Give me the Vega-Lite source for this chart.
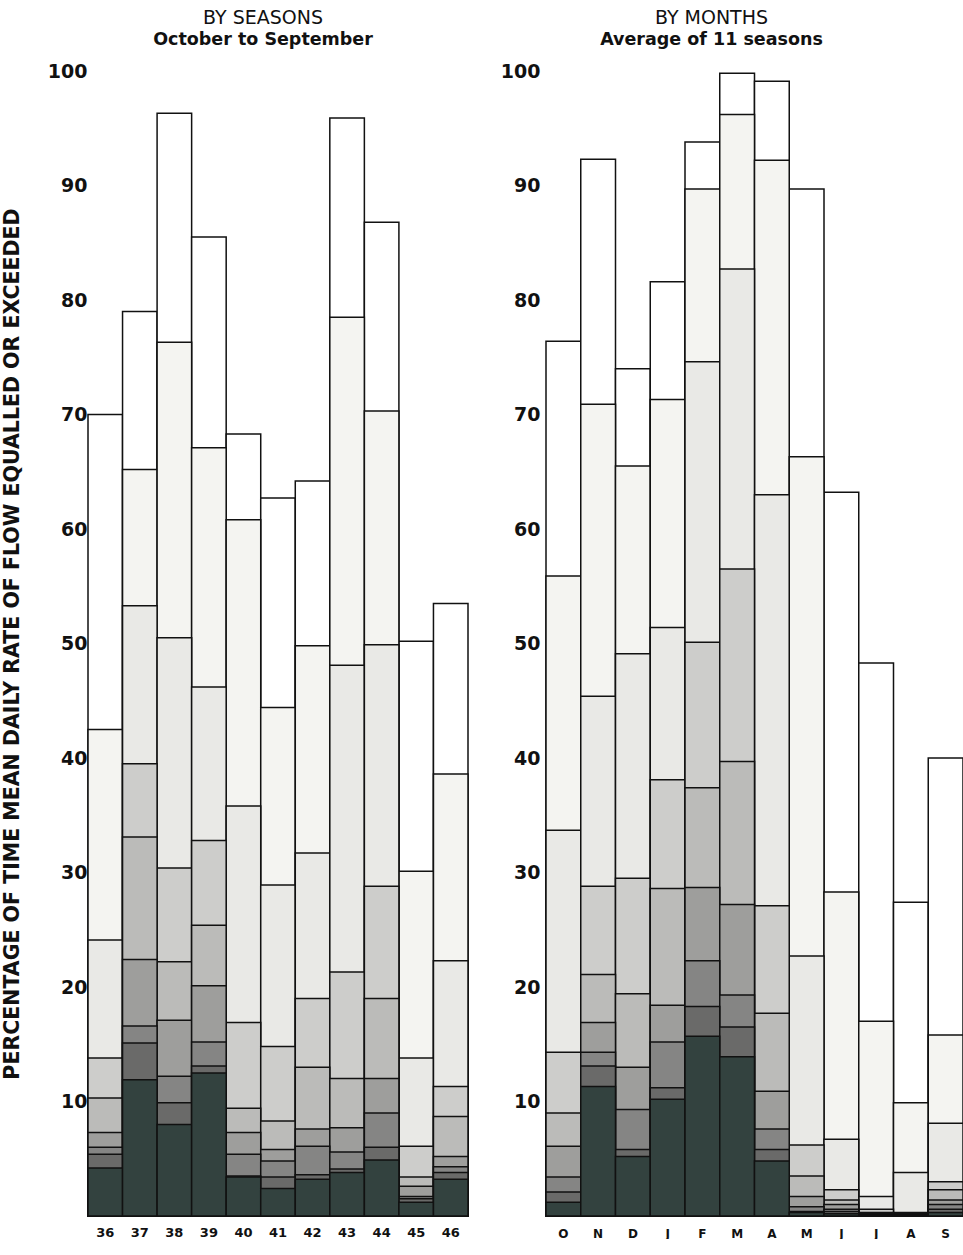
{
  "$schema": "https://vega.github.io/schema/vega-lite/v6.json",
  "background": "white",
  "padding": {"left": 2, "top": 8, "right": 0, "bottom": 0},
  "spacing": 31,
  "config": {
    "view": {"stroke": null},
    "axis": {"grid": false, "domain": false, "ticks": false, "labelColor": "#111", "titleColor": "#111", "labelFont": "DejaVu Sans", "titleFont": "DejaVu Sans"},
    "title": {"font": "DejaVu Sans", "subtitleFont": "DejaVu Sans", "color": "#111", "subtitleColor": "#111"}
  },
  "datasets": {
    "seasons": [
      {"season": "36", "level": 1, "pct": 70.0}, {"season": "36", "level": 2, "pct": 42.5}, {"season": "36", "level": 3, "pct": 24.1}, {"season": "36", "level": 4, "pct": 13.8}, {"season": "36", "level": 5, "pct": 10.3}, {"season": "36", "level": 6, "pct": 7.3}, {"season": "36", "level": 7, "pct": 6.0}, {"season": "36", "level": 8, "pct": 5.4}, {"season": "36", "level": 9, "pct": 4.2},
      {"season": "37", "level": 1, "pct": 79.0}, {"season": "37", "level": 2, "pct": 65.2}, {"season": "37", "level": 3, "pct": 53.3}, {"season": "37", "level": 4, "pct": 39.5}, {"season": "37", "level": 5, "pct": 33.1}, {"season": "37", "level": 6, "pct": 22.4}, {"season": "37", "level": 7, "pct": 16.6}, {"season": "37", "level": 8, "pct": 15.1}, {"season": "37", "level": 9, "pct": 11.9},
      {"season": "38", "level": 1, "pct": 96.3}, {"season": "38", "level": 2, "pct": 76.3}, {"season": "38", "level": 3, "pct": 50.5}, {"season": "38", "level": 4, "pct": 30.4}, {"season": "38", "level": 5, "pct": 22.2}, {"season": "38", "level": 6, "pct": 17.1}, {"season": "38", "level": 7, "pct": 12.2}, {"season": "38", "level": 8, "pct": 9.9}, {"season": "38", "level": 9, "pct": 8.0},
      {"season": "39", "level": 1, "pct": 85.5}, {"season": "39", "level": 2, "pct": 67.1}, {"season": "39", "level": 3, "pct": 46.2}, {"season": "39", "level": 4, "pct": 32.8}, {"season": "39", "level": 5, "pct": 25.4}, {"season": "39", "level": 6, "pct": 20.1}, {"season": "39", "level": 7, "pct": 15.2}, {"season": "39", "level": 8, "pct": 13.1}, {"season": "39", "level": 9, "pct": 12.5},
      {"season": "40", "level": 1, "pct": 68.3}, {"season": "40", "level": 2, "pct": 60.8}, {"season": "40", "level": 3, "pct": 35.8}, {"season": "40", "level": 4, "pct": 16.9}, {"season": "40", "level": 5, "pct": 9.4}, {"season": "40", "level": 6, "pct": 7.3}, {"season": "40", "level": 7, "pct": 5.4}, {"season": "40", "level": 8, "pct": 3.5}, {"season": "40", "level": 9, "pct": 3.4},
      {"season": "41", "level": 1, "pct": 62.7}, {"season": "41", "level": 2, "pct": 44.4}, {"season": "41", "level": 3, "pct": 28.9}, {"season": "41", "level": 4, "pct": 14.8}, {"season": "41", "level": 5, "pct": 8.3}, {"season": "41", "level": 6, "pct": 5.8}, {"season": "41", "level": 7, "pct": 4.8}, {"season": "41", "level": 8, "pct": 3.4}, {"season": "41", "level": 9, "pct": 2.4},
      {"season": "42", "level": 1, "pct": 64.2}, {"season": "42", "level": 2, "pct": 49.8}, {"season": "42", "level": 3, "pct": 31.7}, {"season": "42", "level": 4, "pct": 19.0}, {"season": "42", "level": 5, "pct": 13.0}, {"season": "42", "level": 6, "pct": 7.6}, {"season": "42", "level": 7, "pct": 6.1}, {"season": "42", "level": 8, "pct": 3.6}, {"season": "42", "level": 9, "pct": 3.2},
      {"season": "43", "level": 1, "pct": 95.9}, {"season": "43", "level": 2, "pct": 78.5}, {"season": "43", "level": 3, "pct": 48.1}, {"season": "43", "level": 4, "pct": 21.3}, {"season": "43", "level": 5, "pct": 12.0}, {"season": "43", "level": 6, "pct": 7.7}, {"season": "43", "level": 7, "pct": 5.6}, {"season": "43", "level": 8, "pct": 4.1}, {"season": "43", "level": 9, "pct": 3.8},
      {"season": "44", "level": 1, "pct": 86.8}, {"season": "44", "level": 2, "pct": 70.3}, {"season": "44", "level": 3, "pct": 49.9}, {"season": "44", "level": 4, "pct": 28.8}, {"season": "44", "level": 5, "pct": 19.0}, {"season": "44", "level": 6, "pct": 12.0}, {"season": "44", "level": 7, "pct": 9.0}, {"season": "44", "level": 8, "pct": 6.0}, {"season": "44", "level": 9, "pct": 4.9},
      {"season": "45", "level": 1, "pct": 50.2}, {"season": "45", "level": 2, "pct": 30.1}, {"season": "45", "level": 3, "pct": 13.8}, {"season": "45", "level": 4, "pct": 6.1}, {"season": "45", "level": 5, "pct": 3.4}, {"season": "45", "level": 6, "pct": 2.6}, {"season": "45", "level": 7, "pct": 1.7}, {"season": "45", "level": 8, "pct": 1.5}, {"season": "45", "level": 9, "pct": 1.2},
      {"season": "46", "level": 1, "pct": 53.5}, {"season": "46", "level": 2, "pct": 38.6}, {"season": "46", "level": 3, "pct": 22.3}, {"season": "46", "level": 4, "pct": 11.3}, {"season": "46", "level": 5, "pct": 8.7}, {"season": "46", "level": 6, "pct": 5.2}, {"season": "46", "level": 7, "pct": 4.3}, {"season": "46", "level": 8, "pct": 3.8}, {"season": "46", "level": 9, "pct": 3.2}
    ],
    "months": [
      {"month": "Oct", "level": 1, "pct": 76.4}, {"month": "Oct", "level": 2, "pct": 55.9}, {"month": "Oct", "level": 3, "pct": 33.7}, {"month": "Oct", "level": 4, "pct": 14.3}, {"month": "Oct", "level": 5, "pct": 9.0}, {"month": "Oct", "level": 6, "pct": 6.1}, {"month": "Oct", "level": 7, "pct": 3.4}, {"month": "Oct", "level": 8, "pct": 2.1}, {"month": "Oct", "level": 9, "pct": 1.2},
      {"month": "Nov", "level": 1, "pct": 92.3}, {"month": "Nov", "level": 2, "pct": 70.9}, {"month": "Nov", "level": 3, "pct": 45.4}, {"month": "Nov", "level": 4, "pct": 28.8}, {"month": "Nov", "level": 5, "pct": 21.1}, {"month": "Nov", "level": 6, "pct": 16.9}, {"month": "Nov", "level": 7, "pct": 14.3}, {"month": "Nov", "level": 8, "pct": 13.1}, {"month": "Nov", "level": 9, "pct": 11.3},
      {"month": "Dec", "level": 1, "pct": 74.0}, {"month": "Dec", "level": 2, "pct": 65.5}, {"month": "Dec", "level": 3, "pct": 49.1}, {"month": "Dec", "level": 4, "pct": 29.5}, {"month": "Dec", "level": 5, "pct": 19.4}, {"month": "Dec", "level": 6, "pct": 13.0}, {"month": "Dec", "level": 7, "pct": 9.3}, {"month": "Dec", "level": 8, "pct": 5.8}, {"month": "Dec", "level": 9, "pct": 5.2},
      {"month": "Jan", "level": 1, "pct": 81.6}, {"month": "Jan", "level": 2, "pct": 71.3}, {"month": "Jan", "level": 3, "pct": 51.4}, {"month": "Jan", "level": 4, "pct": 38.1}, {"month": "Jan", "level": 5, "pct": 28.6}, {"month": "Jan", "level": 6, "pct": 18.4}, {"month": "Jan", "level": 7, "pct": 15.2}, {"month": "Jan", "level": 8, "pct": 11.2}, {"month": "Jan", "level": 9, "pct": 10.2},
      {"month": "Feb", "level": 1, "pct": 93.8}, {"month": "Feb", "level": 2, "pct": 89.7}, {"month": "Feb", "level": 3, "pct": 74.6}, {"month": "Feb", "level": 4, "pct": 50.1}, {"month": "Feb", "level": 5, "pct": 37.4}, {"month": "Feb", "level": 6, "pct": 28.7}, {"month": "Feb", "level": 7, "pct": 22.3}, {"month": "Feb", "level": 8, "pct": 18.3}, {"month": "Feb", "level": 9, "pct": 15.7},
      {"month": "Mar", "level": 1, "pct": 99.8}, {"month": "Mar", "level": 2, "pct": 96.2}, {"month": "Mar", "level": 3, "pct": 82.7}, {"month": "Mar", "level": 4, "pct": 56.5}, {"month": "Mar", "level": 5, "pct": 39.7}, {"month": "Mar", "level": 6, "pct": 27.2}, {"month": "Mar", "level": 7, "pct": 19.3}, {"month": "Mar", "level": 8, "pct": 16.5}, {"month": "Mar", "level": 9, "pct": 13.9},
      {"month": "Apr", "level": 1, "pct": 99.1}, {"month": "Apr", "level": 2, "pct": 92.2}, {"month": "Apr", "level": 3, "pct": 63.0}, {"month": "Apr", "level": 4, "pct": 27.1}, {"month": "Apr", "level": 5, "pct": 17.7}, {"month": "Apr", "level": 6, "pct": 10.9}, {"month": "Apr", "level": 7, "pct": 7.6}, {"month": "Apr", "level": 8, "pct": 5.8}, {"month": "Apr", "level": 9, "pct": 4.8},
      {"month": "May", "level": 1, "pct": 89.7}, {"month": "May", "level": 2, "pct": 66.3}, {"month": "May", "level": 3, "pct": 22.7}, {"month": "May", "level": 4, "pct": 6.2}, {"month": "May", "level": 5, "pct": 3.5}, {"month": "May", "level": 6, "pct": 1.7}, {"month": "May", "level": 7, "pct": 0.8}, {"month": "May", "level": 8, "pct": 0.4}, {"month": "May", "level": 9, "pct": 0.3},
      {"month": "Jun", "level": 1, "pct": 63.2}, {"month": "Jun", "level": 2, "pct": 28.3}, {"month": "Jun", "level": 3, "pct": 6.7}, {"month": "Jun", "level": 4, "pct": 2.3}, {"month": "Jun", "level": 5, "pct": 1.4}, {"month": "Jun", "level": 6, "pct": 1.0}, {"month": "Jun", "level": 7, "pct": 0.6}, {"month": "Jun", "level": 8, "pct": 0.4}, {"month": "Jun", "level": 9, "pct": 0.2},
      {"month": "Jul", "level": 1, "pct": 48.3}, {"month": "Jul", "level": 2, "pct": 17.0}, {"month": "Jul", "level": 3, "pct": 1.7}, {"month": "Jul", "level": 4, "pct": 0.6}, {"month": "Jul", "level": 5, "pct": 0.3}, {"month": "Jul", "level": 6, "pct": 0.2}, {"month": "Jul", "level": 7, "pct": 0.1}, {"month": "Jul", "level": 8, "pct": 0.05}, {"month": "Jul", "level": 9, "pct": 0.0},
      {"month": "Aug", "level": 1, "pct": 27.4}, {"month": "Aug", "level": 2, "pct": 9.9}, {"month": "Aug", "level": 3, "pct": 3.8}, {"month": "Aug", "level": 4, "pct": 0.3}, {"month": "Aug", "level": 5, "pct": 0.2}, {"month": "Aug", "level": 6, "pct": 0.1}, {"month": "Aug", "level": 7, "pct": 0.05}, {"month": "Aug", "level": 8, "pct": 0.0}, {"month": "Aug", "level": 9, "pct": 0.0},
      {"month": "Sep", "level": 1, "pct": 40.0}, {"month": "Sep", "level": 2, "pct": 15.8}, {"month": "Sep", "level": 3, "pct": 8.1}, {"month": "Sep", "level": 4, "pct": 3.0}, {"month": "Sep", "level": 5, "pct": 2.3}, {"month": "Sep", "level": 6, "pct": 1.4}, {"month": "Sep", "level": 7, "pct": 1.0}, {"month": "Sep", "level": 8, "pct": 0.6}, {"month": "Sep", "level": 9, "pct": 0.3}
    ]
  },
  "hconcat": [
    {
      "width": 380,
      "height": 1145,
      "title": {"text": "BY SEASONS", "subtitle": "October to September", "fontSize": 19, "fontWeight": "normal", "subtitleFontSize": 17.5, "subtitleFontWeight": "bold", "subtitlePadding": 3, "anchor": "middle", "dx": -15, "offset": 14},
      "data": {"name": "seasons"},
      "mark": {"type": "bar", "stroke": "#111", "strokeWidth": 1.5},
      "encoding": {
        "x": {"field": "season", "type": "ordinal", "scale": {"paddingInner": 0, "paddingOuter": 0},
              "axis": {"title": null, "labelAngle": 0, "labelFontSize": 13, "labelFontWeight": "bold", "labelPadding": 10}},
        "y": {"field": "pct", "type": "quantitative", "stack": null, "scale": {"domain": [0, 100]},
              "axis": {"values": [10, 20, 30, 40, 50, 60, 70, 80, 90, 100], "labelFontSize": 19, "labelFontWeight": "bold", "labelPadding": 1,
                       "title": "PERCENTAGE OF TIME MEAN DAILY RATE OF FLOW EQUALLED OR EXCEEDED", "titleFontSize": 20.5, "titleFontWeight": "bold", "titlePadding": 25}},
        "color": {"field": "level", "type": "ordinal", "legend": null,
                  "scale": {"domain": [1, 2, 3, 4, 5, 6, 7, 8, 9], "range": ["#ffffff", "#f4f4f1", "#e9e9e6", "#cdcdcb", "#bbbbb9", "#9e9e9c", "#858584", "#6a6a69", "#33423f"]}},
        "order": {"field": "level", "type": "quantitative"}
      }
    },
    {
      "width": 417,
      "height": 1145,
      "title": {"text": "BY MONTHS", "subtitle": "Average of 11 seasons", "fontSize": 19, "fontWeight": "normal", "subtitleFontSize": 17.5, "subtitleFontWeight": "bold", "subtitlePadding": 3, "anchor": "middle", "dx": -43, "offset": 14},
      "data": {"name": "months"},
      "mark": {"type": "bar", "stroke": "#111", "strokeWidth": 1.5},
      "encoding": {
        "x": {"field": "month", "type": "ordinal", "sort": ["Oct", "Nov", "Dec", "Jan", "Feb", "Mar", "Apr", "May", "Jun", "Jul", "Aug", "Sep"],
              "scale": {"paddingInner": 0, "paddingOuter": 0},
              "axis": {"title": null, "labelAngle": 0, "labelFontSize": 12, "labelFontWeight": "bold", "labelPadding": 12, "labelExpr": "substring(datum.label, 0, 1)"}},
        "y": {"field": "pct", "type": "quantitative", "stack": null, "scale": {"domain": [0, 100]},
              "axis": {"values": [10, 20, 30, 40, 50, 60, 70, 80, 90, 100], "labelFontSize": 19, "labelFontWeight": "bold", "labelPadding": 6, "title": null}},
        "color": {"field": "level", "type": "ordinal", "legend": null,
                  "scale": {"domain": [1, 2, 3, 4, 5, 6, 7, 8, 9], "range": ["#ffffff", "#f4f4f1", "#e9e9e6", "#cdcdcb", "#bbbbb9", "#9e9e9c", "#858584", "#6a6a69", "#33423f"]}},
        "order": {"field": "level", "type": "quantitative"}
      }
    }
  ],
  "resolve": {"scale": {"color": "shared"}}
}
